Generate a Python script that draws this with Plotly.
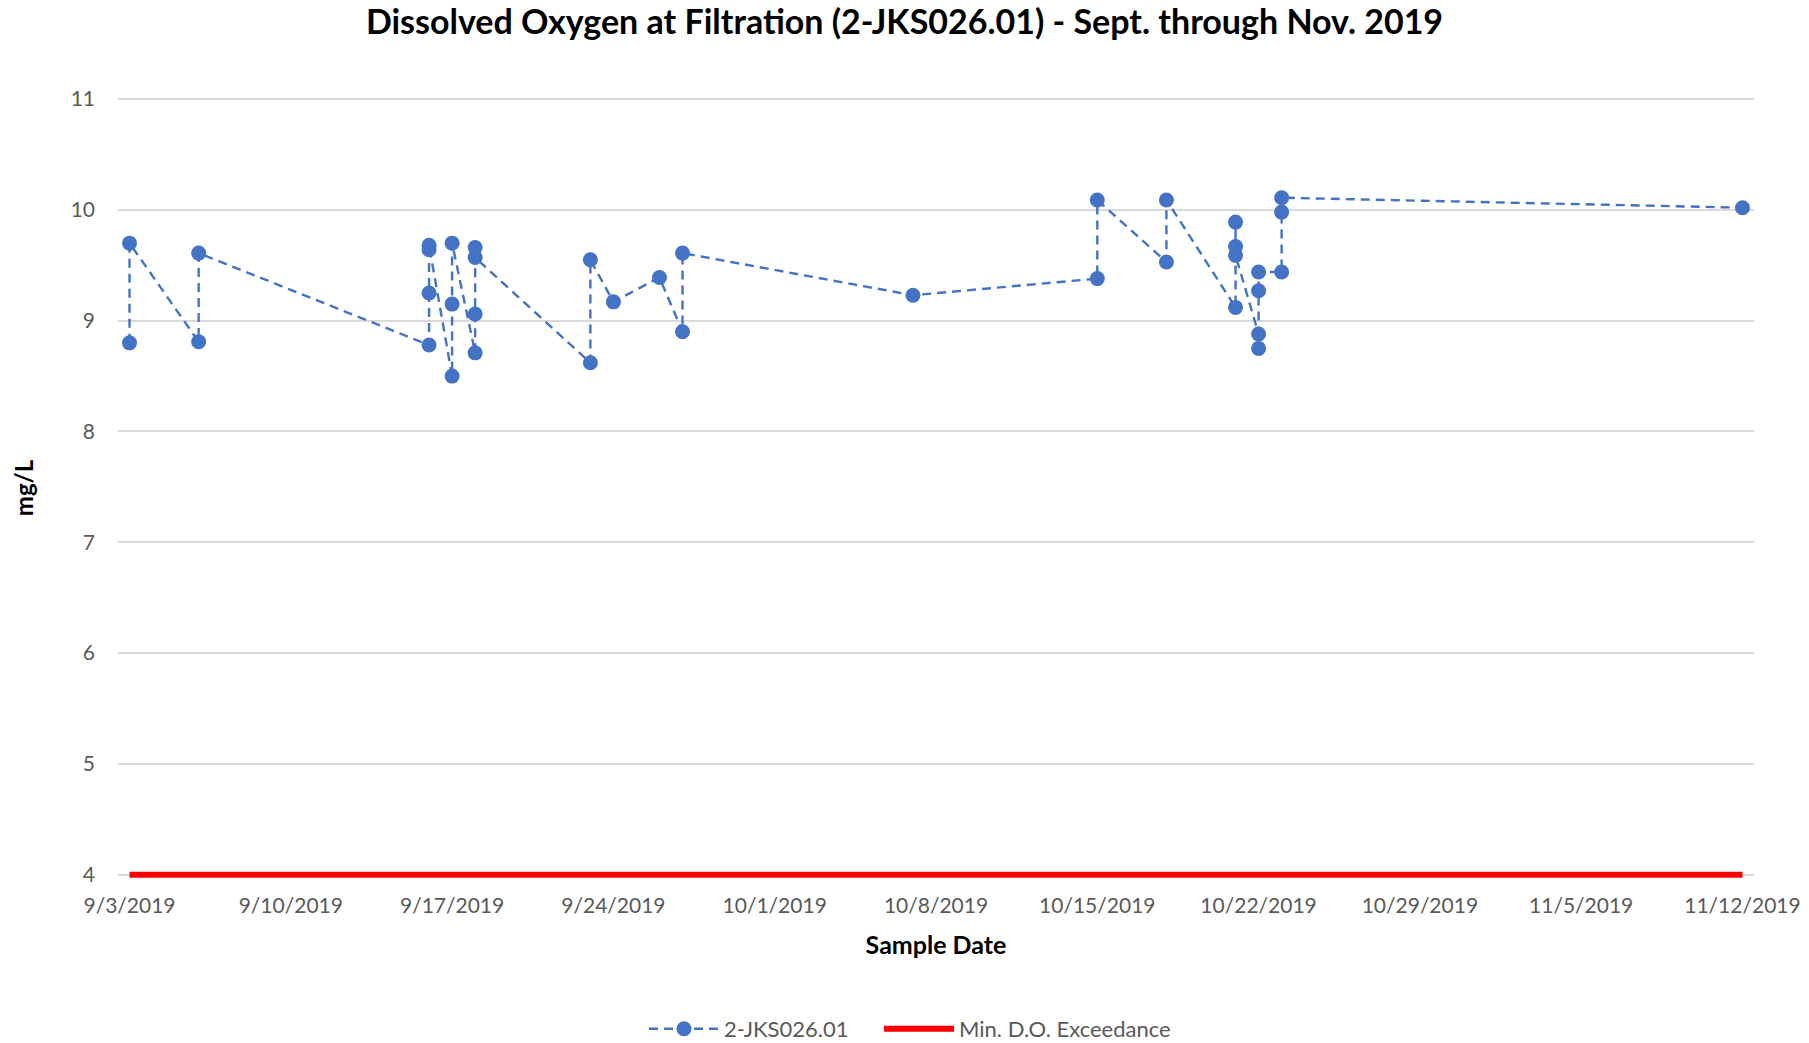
import plotly.graph_objects as go

# ---- data ----
sample_dates = [
    "2019-09-03", "2019-09-03",
    "2019-09-06", "2019-09-06",
    "2019-09-16", "2019-09-16", "2019-09-16", "2019-09-16",
    "2019-09-17", "2019-09-17", "2019-09-17",
    "2019-09-18", "2019-09-18", "2019-09-18", "2019-09-18",
    "2019-09-23", "2019-09-23",
    "2019-09-24",
    "2019-09-26",
    "2019-09-27", "2019-09-27",
    "2019-10-07",
    "2019-10-15", "2019-10-15",
    "2019-10-18", "2019-10-18",
    "2019-10-21", "2019-10-21", "2019-10-21", "2019-10-21",
    "2019-10-22", "2019-10-22", "2019-10-22", "2019-10-22",
    "2019-10-23", "2019-10-23", "2019-10-23",
    "2019-11-12",
]
do_values = [
    8.80, 9.70,
    8.81, 9.61,
    8.78, 9.25, 9.64, 9.68,
    8.50, 9.15, 9.70,
    8.71, 9.06, 9.66, 9.57,
    8.62, 9.55,
    9.17,
    9.39,
    8.90, 9.61,
    9.23,
    9.38, 10.09,
    9.53, 10.09,
    9.12, 9.89, 9.67, 9.59,
    8.88, 8.75, 9.27, 9.44,
    9.44, 9.98, 10.11,
    10.02,
]
limit_dates = ["2019-09-03", "2019-11-12"]
limit_values = [4, 4]

tick_dates = ["2019-09-03", "2019-09-10", "2019-09-17", "2019-09-24", "2019-10-01",
              "2019-10-08", "2019-10-15", "2019-10-22", "2019-10-29", "2019-11-05",
              "2019-11-12"]
tick_labels = ["9/3/2019", "9/10/2019", "9/17/2019", "9/24/2019", "10/1/2019",
               "10/8/2019", "10/15/2019", "10/22/2019", "10/29/2019", "11/5/2019",
               "11/12/2019"]
y_ticks = [4, 5, 6, 7, 8, 9, 10, 11]

series_name = "2-JKS026.01"
limit_name = "Min. D.O. Exceedance"

FONT = "Lato, Carlito, sans-serif"
GRAY = "#595959"
BLUE = "#4472C4"

fig = go.Figure()
fig.add_trace(go.Scatter(
    x=sample_dates, y=do_values, name=series_name, mode="lines+markers",
    line=dict(color=BLUE, width=2.4, dash="9px,6px"),
    marker=dict(color=BLUE, size=15, symbol="circle"),
    cliponaxis=False, legend="legend",
))
fig.add_trace(go.Scatter(
    x=limit_dates, y=limit_values, name=limit_name, mode="lines",
    line=dict(color="#FF0000", width=6), legend="legend2",
))

legend_common = dict(
    orientation="h", xref="container", xanchor="left",
    y=1 - 1029 / 1043, yref="container", yanchor="middle",
    font=dict(family=FONT, size=22, color=GRAY),
    itemwidth=70, bgcolor="rgba(0,0,0,0)",
)

fig.update_layout(
    width=1809, height=1043,
    margin=dict(l=118, r=55, t=98, b=165, autoexpand=False),
    paper_bgcolor="white", plot_bgcolor="white",
    font=dict(family=FONT, color=GRAY, size=21),
    title=dict(
        text="<b>Dissolved Oxygen at Filtration (2-JKS026.01) - Sept. through Nov. 2019</b>",
        x=0.5, xref="container", xanchor="center",
        y=1 - 22 / 1043, yref="container", yanchor="middle",
        font=dict(family=FONT, size=34, color="#000000"),
    ),
    showlegend=True,
    legend=dict(x=644 / 1809, **legend_common),
    legend2=dict(x=879 / 1809, **legend_common),
)
fig.update_xaxes(
    type="date", automargin=False,
    range=["2019-09-02 12:00", "2019-11-12 12:00"],
    tickmode="array", tickvals=tick_dates, ticktext=tick_labels,
    showgrid=False, zeroline=False, showline=False, ticks="",
    ticklabelstandoff=13,
    tickfont=dict(family=FONT, size=21, color=GRAY),
    title=dict(text="<b>Sample Date</b>", font=dict(family=FONT, size=25, color="#000000"), standoff=20),
)
fig.update_yaxes(
    automargin=False,
    range=[3.97, 11.01],
    tickmode="array", tickvals=y_ticks,
    showgrid=True, gridcolor="#D9D9D9", gridwidth=1.5,
    zeroline=False, showline=False, ticks="",
    ticklabelstandoff=22,
    tickfont=dict(family=FONT, size=21, color=GRAY),
    title=dict(text="<b>mg/L</b>", font=dict(family=FONT, size=24, color="#000000"), standoff=30),
)

fig.write_html("out.html", config={"displayModeBar": False},
               post_script="document.body.style.margin='0';")
